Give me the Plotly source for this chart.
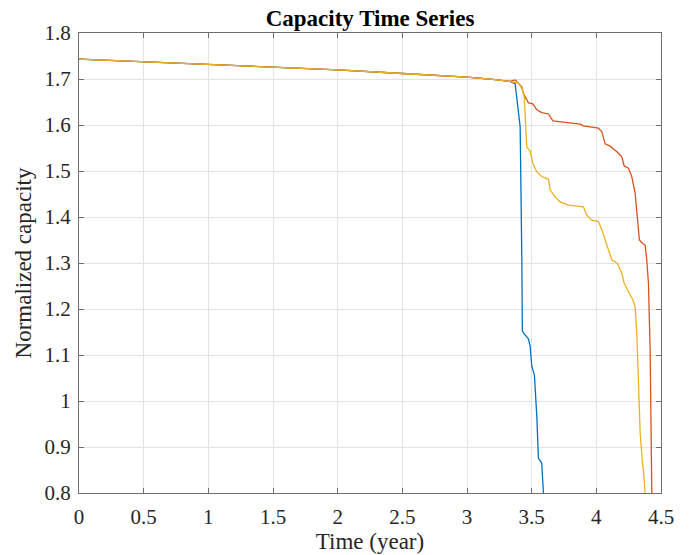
import plotly.graph_objects as go

# Shared slow-fade segment (years, normalized capacity)
base_t = [0.0, 0.5, 1.0, 1.5, 2.0, 2.5, 3.0, 3.2, 3.33]
base_v = [1.743, 1.737, 1.731, 1.726, 1.720, 1.712, 1.704, 1.699, 1.695]

blue_t = [3.372, 3.411, 3.424, 3.428, 3.436, 3.475, 3.488, 3.501, 3.521, 3.540, 3.552, 3.578, 3.591]
blue_v = [1.690, 1.596, 1.307, 1.154, 1.148, 1.135, 1.120, 1.075, 1.057, 0.966, 0.876, 0.865, 0.800]

red_t = [3.372, 3.424, 3.436, 3.475, 3.509, 3.540, 3.578, 3.630, 3.664, 3.746, 3.875, 3.900,
         4.016, 4.043, 4.068, 4.107, 4.159, 4.197, 4.215, 4.248, 4.274, 4.300, 4.318, 4.333,
         4.352, 4.377, 4.390, 4.403, 4.416, 4.421, 4.429]
red_v = [1.698, 1.683, 1.669, 1.648, 1.646, 1.633, 1.627, 1.624, 1.609, 1.606, 1.602, 1.598,
         1.593, 1.585, 1.559, 1.554, 1.542, 1.531, 1.511, 1.506, 1.488, 1.452, 1.401, 1.350,
         1.344, 1.339, 1.307, 1.256, 1.111, 0.922, 0.800]

yel_t = [3.398, 3.424, 3.442, 3.457, 3.462, 3.488, 3.509, 3.540, 3.578, 3.630, 3.643, 3.681,
         3.720, 3.784, 3.900, 3.926, 3.965, 4.016, 4.043, 4.076, 4.120, 4.163, 4.197, 4.215,
         4.248, 4.282, 4.300, 4.313, 4.326, 4.339, 4.357, 4.364, 4.377]
yel_v = [1.691, 1.680, 1.662, 1.596, 1.552, 1.544, 1.517, 1.498, 1.488, 1.482, 1.459, 1.444,
         1.433, 1.426, 1.422, 1.404, 1.393, 1.390, 1.372, 1.343, 1.307, 1.299, 1.278, 1.256,
         1.238, 1.220, 1.205, 1.147, 1.038, 0.930, 0.865, 0.850, 0.800]

x_ticks = [0, 0.5, 1, 1.5, 2, 2.5, 3, 3.5, 4, 4.5]
x_labels = ["0", "0.5", "1", "1.5", "2", "2.5", "3", "3.5", "4", "4.5"]
y_ticks = [0.8, 0.9, 1.0, 1.1, 1.2, 1.3, 1.4, 1.5, 1.6, 1.7, 1.8]
y_labels = ["0.8", "0.9", "1", "1.1", "1.2", "1.3", "1.4", "1.5", "1.6", "1.7", "1.8"]

series = [
    ("blue", blue_t, blue_v, "#0072BD"),
    ("red", red_t, red_v, "#D95319"),
    ("yellow", yel_t, yel_v, "#EDB120"),
]

fig = go.Figure()
for name, t, v, col in series:
    fig.add_trace(go.Scatter(x=base_t + t, y=base_v + v, mode="lines", name=name,
                             line=dict(color=col, width=1.3), showlegend=False))

font = "Liberation Serif, Times New Roman, serif"
axis_common = dict(
    showline=True, linecolor="#6e6e6e", linewidth=1, mirror="ticks",
    ticks="inside", ticklen=5, tickcolor="#6e6e6e",
    showgrid=True, gridcolor="#e3e3e3", gridwidth=1, zeroline=False,
    tickfont=dict(family=font, size=21, color="#262626"),
    automargin=False,
)
fig.update_xaxes(range=[0, 4.5], tickvals=x_ticks, ticktext=x_labels, ticklabelstandoff=5,
                 title=dict(text="Time (year)", font=dict(family=font, size=23, color="#262626"), standoff=3),
                 **axis_common)
fig.update_yaxes(range=[0.8, 1.8], tickvals=y_ticks, ticktext=y_labels, ticklabelstandoff=3,
                 title=dict(text="Normalized capacity", font=dict(family=font, size=23, color="#262626"), standoff=6),
                 **axis_common)
fig.update_layout(
    width=690, height=555,
    margin=dict(l=79, r=29, t=33, b=62),
    paper_bgcolor="white", plot_bgcolor="white",
    title=dict(text="<b>Capacity Time Series</b>", xref="paper", x=0.5, xanchor="center",
               yref="container", y=0.968, yanchor="middle",
               font=dict(family=font, size=23, color="#000000")),
)
fig.write_html("out.html")
